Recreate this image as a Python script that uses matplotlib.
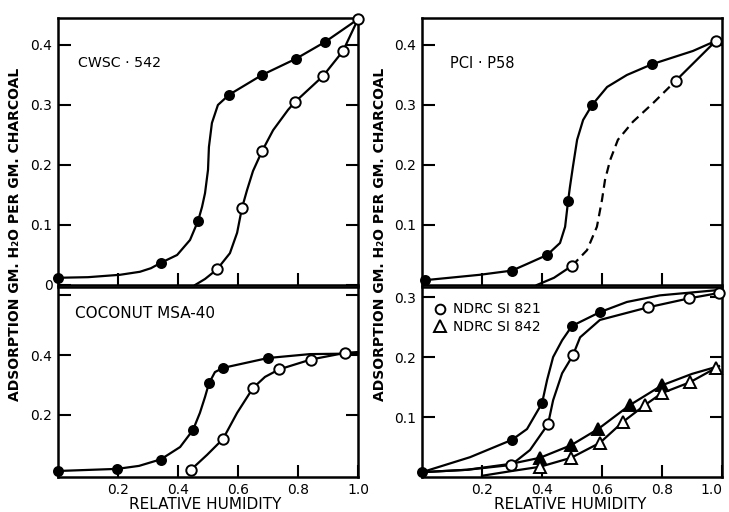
import matplotlib
matplotlib.use("Agg")
import matplotlib.pyplot as plt
from matplotlib.lines import Line2D

# ---- CWSC-542 (arriba izquierda) ----
cw_fill_x = [0.0, 0.343, 0.467, 0.57, 0.68, 0.793, 0.89]
cw_fill_y = [0.012, 0.037, 0.107, 0.317, 0.35, 0.377, 0.405]
cw_open_x = [0.53, 0.613, 0.68, 0.79, 0.883, 0.95, 1.0]
cw_open_y = [0.026, 0.128, 0.223, 0.305, 0.348, 0.39, 0.443]
# curvas trazadas a mano sobre la figura
cw_fill_line_x = [0.0, 0.1, 0.207, 0.273, 0.31, 0.343, 0.397, 0.44, 0.467, 0.48, 0.49, 0.50, 0.503,
                  0.513, 0.533, 0.57, 0.68, 0.793, 0.89, 1.0]
cw_fill_line_y = [0.012, 0.013, 0.017, 0.022, 0.028, 0.037, 0.05, 0.075, 0.107, 0.13, 0.153, 0.192,
                  0.23, 0.27, 0.30, 0.317, 0.35, 0.377, 0.405, 0.443]
cw_open_line_x = [0.457, 0.49, 0.53, 0.573, 0.597, 0.613, 0.63, 0.65, 0.68, 0.717, 0.767, 0.79,
                  0.883, 0.95, 1.0]
cw_open_line_y = [0.0, 0.01, 0.026, 0.053, 0.087, 0.128, 0.158, 0.19, 0.223, 0.258, 0.292, 0.305,
                  0.348, 0.39, 0.443]

# ---- PCI-P58 (arriba derecha) ----
pc_fill_x = [0.01, 0.30, 0.417, 0.487, 0.567, 0.767]
pc_fill_y = [0.008, 0.024, 0.05, 0.14, 0.30, 0.368]
pc_open_x = [0.50, 0.845, 0.98]
pc_open_y = [0.032, 0.34, 0.407]
pc_fill_line_x = [0.01, 0.193, 0.30, 0.35, 0.417, 0.46, 0.477, 0.487, 0.493, 0.503, 0.517, 0.537,
                  0.567, 0.617, 0.683, 0.767, 0.903, 0.98]
pc_fill_line_y = [0.008, 0.017, 0.024, 0.035, 0.05, 0.07, 0.097, 0.14, 0.163, 0.197, 0.242, 0.275,
                  0.30, 0.33, 0.35, 0.368, 0.39, 0.407]
pc_open_start_x = [0.383, 0.44, 0.50]
pc_open_start_y = [0.0, 0.012, 0.032]
pc_dash_x = [0.50, 0.55, 0.583, 0.60, 0.61, 0.627, 0.653, 0.703, 0.77, 0.845]
pc_dash_y = [0.032, 0.058, 0.097, 0.142, 0.175, 0.208, 0.242, 0.272, 0.303, 0.34]
pc_open_end_x = [0.845, 0.98]
pc_open_end_y = [0.34, 0.407]

# ---- COCONUT MSA-40 (abajo izquierda) ----
co_fill_x = [0.0, 0.197, 0.343, 0.45, 0.503, 0.55, 0.70]
co_fill_y = [0.013, 0.02, 0.05, 0.15, 0.305, 0.357, 0.39]
co_open_x = [0.443, 0.55, 0.65, 0.737, 0.843, 0.957]
co_open_y = [0.017, 0.12, 0.29, 0.352, 0.385, 0.407]
co_fill_line_x = [0.0, 0.197, 0.27, 0.343, 0.407, 0.45, 0.473, 0.49, 0.503, 0.523, 0.55, 0.70, 0.84, 1.0]
co_fill_line_y = [0.013, 0.02, 0.03, 0.052, 0.093, 0.15, 0.207, 0.26, 0.305, 0.343, 0.357, 0.39, 0.403, 0.405]
co_open_line_x = [0.443, 0.497, 0.55, 0.597, 0.65, 0.69, 0.737, 0.843, 0.957, 1.0]
co_open_line_y = [0.017, 0.067, 0.12, 0.207, 0.29, 0.327, 0.352, 0.385, 0.407, 0.41]

# ---- NDRC SI 821 / 842 (abajo derecha) ----
s821_fill_x = [0.0, 0.30, 0.40, 0.50, 0.593]
s821_fill_y = [0.008, 0.062, 0.123, 0.252, 0.275]
s821_open_x = [0.297, 0.42, 0.503, 0.753, 0.89, 0.99]
s821_open_y = [0.02, 0.088, 0.203, 0.283, 0.298, 0.307]
s842_fill_x = [0.393, 0.497, 0.587, 0.693, 0.80]
s842_fill_y = [0.032, 0.053, 0.08, 0.12, 0.153]
s842_open_x = [0.393, 0.497, 0.593, 0.67, 0.743, 0.80, 0.893, 0.98]
s842_open_y = [0.017, 0.032, 0.057, 0.092, 0.12, 0.14, 0.158, 0.182]
s821_fill_line_x = [0.0, 0.16, 0.30, 0.35, 0.40, 0.417, 0.437, 0.467, 0.50, 0.593, 0.683, 0.793, 0.99]
s821_fill_line_y = [0.008, 0.033, 0.062, 0.08, 0.123, 0.162, 0.20, 0.228, 0.252, 0.275, 0.292, 0.303, 0.312]
s821_open_line_x = [0.0, 0.15, 0.297, 0.36, 0.42, 0.437, 0.467, 0.503, 0.527, 0.593, 0.753, 0.89, 0.99]
s821_open_line_y = [0.008, 0.012, 0.02, 0.045, 0.088, 0.128, 0.173, 0.203, 0.233, 0.262, 0.283, 0.298, 0.307]
s842_fill_line_x = [0.0, 0.15, 0.297, 0.393, 0.497, 0.587, 0.693, 0.80, 0.90, 0.99]
s842_fill_line_y = [0.008, 0.012, 0.022, 0.032, 0.053, 0.08, 0.12, 0.153, 0.172, 0.185]
s842_open_line_x = [0.2, 0.3, 0.393, 0.497, 0.593, 0.67, 0.743, 0.80, 0.893, 0.98]
s842_open_line_y = [0.002, 0.01, 0.017, 0.032, 0.057, 0.092, 0.12, 0.14, 0.158, 0.182]

LW = 1.6


def estilo(ax, ylim, yticks, ylabels, xlabels):
    ax.set_xlim(0, 1.0)
    ax.set_ylim(*ylim)
    ax.set_yticks(yticks)
    ax.set_yticklabels(ylabels)
    if xlabels:
        ax.set_xticks([0.2, 0.4, 0.6, 0.8, 1.0])
        ax.set_xticklabels(['0.2', '0.4', '0.6', '0.8', '1.0'])
    else:
        ax.set_xticks([0.2, 0.4, 0.6, 0.8])
        ax.set_xticklabels([])
    ax.tick_params(direction='in', length=9, width=1.5, right=True, top=False,
                   labelsize=10, pad=4)
    for s in ax.spines.values():
        s.set_linewidth(1.8)


def linea(ax, x, y, ls='-'):
    ax.plot(x, y, color='black', lw=LW, ls=ls, solid_joinstyle='round', clip_on=False, zorder=2)


def puntos(ax, x, y, marker='o', lleno=True, ms=6.5):
    ax.plot(x, y, ls='none', marker=marker, ms=ms, mec='black', mew=1.4,
            mfc='black' if lleno else 'white', clip_on=False, zorder=3)


fig = plt.figure(figsize=(7.29, 5.12), dpi=100)
ax_tl = fig.add_axes([0.0796, 0.4434, 0.4115, 0.5215])
ax_tr = fig.add_axes([0.5789, 0.4434, 0.4115, 0.5215])
ax_bl = fig.add_axes([0.0796, 0.0684, 0.4115, 0.3711])
ax_br = fig.add_axes([0.5789, 0.0684, 0.4115, 0.3711])

# arriba izquierda
linea(ax_tl, cw_fill_line_x, cw_fill_line_y)
linea(ax_tl, cw_open_line_x, cw_open_line_y)
puntos(ax_tl, cw_fill_x, cw_fill_y)
puntos(ax_tl, cw_open_x, cw_open_y, lleno=False, ms=7.5)
estilo(ax_tl, (0, 0.445), [0, 0.1, 0.2, 0.3, 0.4], ['0', '0.1', '0.2', '0.3', '0.4'], False)
ax_tl.text(0.067, 0.83, 'CWSC · 542', transform=ax_tl.transAxes, fontsize=10.2, va='center')

# arriba derecha
linea(ax_tr, pc_fill_line_x, pc_fill_line_y)
linea(ax_tr, pc_open_start_x, pc_open_start_y)
linea(ax_tr, pc_dash_x, pc_dash_y, ls=(0, (4, 2.5)))
linea(ax_tr, pc_open_end_x, pc_open_end_y)
puntos(ax_tr, pc_fill_x, pc_fill_y)
puntos(ax_tr, pc_open_x, pc_open_y, lleno=False, ms=7.5)
estilo(ax_tr, (0, 0.445), [0.1, 0.2, 0.3, 0.4], ['0.1', '0.2', '0.3', '0.4'], False)
ax_tr.text(0.093, 0.83, 'PCI · P58', transform=ax_tr.transAxes, fontsize=10.5, va='center')

# abajo izquierda
linea(ax_bl, co_fill_line_x, co_fill_line_y)
linea(ax_bl, co_open_line_x, co_open_line_y)
puntos(ax_bl, co_fill_x, co_fill_y)
puntos(ax_bl, co_open_x, co_open_y, lleno=False, ms=7.5)
estilo(ax_bl, (-0.007, 0.627), [0.2, 0.4, 0.6], ['0.2', '0.4', ''], True)
ax_bl.text(0.057, 0.863, 'COCONUT MSA-40', transform=ax_bl.transAxes, fontsize=11, va='center')

# abajo derecha
linea(ax_br, s821_fill_line_x, s821_fill_line_y)
linea(ax_br, s821_open_line_x, s821_open_line_y)
linea(ax_br, s842_fill_line_x, s842_fill_line_y)
linea(ax_br, s842_open_line_x, s842_open_line_y)
puntos(ax_br, s821_fill_x, s821_fill_y)
puntos(ax_br, s821_open_x, s821_open_y, lleno=False, ms=7.5)
puntos(ax_br, s842_fill_x, s842_fill_y, marker='^', ms=8)
puntos(ax_br, s842_open_x, s842_open_y, marker='^', lleno=False, ms=8)
estilo(ax_br, (0, 0.317), [0.1, 0.2, 0.3], ['0.1', '0.2', '0.3'], True)
# el "1.0" de la derecha queda pegado al borde
ax_br.get_xticklabels()[-1].set_ha('right')

h = [Line2D([], [], ls='none', marker='o', ms=7, mfc='white', mec='black', mew=1.4),
     Line2D([], [], ls='none', marker='^', ms=8, mfc='white', mec='black', mew=1.4)]
ax_br.legend(h, ['NDRC SI 821', 'NDRC SI 842'], loc='upper left', bbox_to_anchor=(0.0, 0.97),
             frameon=False, fontsize=10, handletextpad=0.3, handlelength=1.2,
             borderaxespad=0.3, labelspacing=0.25)

# etiquetas de los ejes
ylab = 'ADSORPTION GM. H₂O PER GM. CHARCOAL'
fig.text(0.0206, 0.543, ylab, rotation=90, ha='center', va='center', fontsize=10, fontweight='bold')
fig.text(0.521, 0.543, ylab, rotation=90, ha='center', va='center', fontsize=10, fontweight='bold')
fig.text(0.281, 0.0137, 'RELATIVE HUMIDITY', ha='center', va='center', fontsize=11)
fig.text(0.782, 0.0137, 'RELATIVE HUMIDITY', ha='center', va='center', fontsize=11)

fig.savefig('out.png', dpi=100)
